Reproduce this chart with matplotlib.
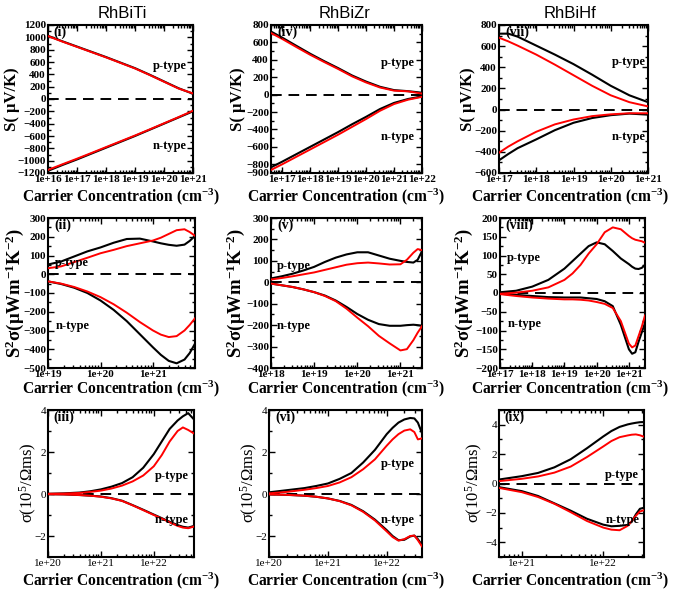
import numpy as np
import matplotlib
matplotlib.use("Agg")
import matplotlib.pyplot as plt
from matplotlib.ticker import FixedLocator, LogLocator, FuncFormatter, NullFormatter, MultipleLocator

plt.rcParams['font.family'] = ['Liberation Serif', 'DejaVu Serif']
plt.rcParams['mathtext.fontset'] = 'custom'
plt.rcParams['mathtext.rm'] = 'Liberation Serif'
plt.rcParams['mathtext.bf'] = 'Liberation Serif:bold'
plt.rcParams['mathtext.it'] = 'Liberation Serif:italic'
plt.rcParams['mathtext.default'] = 'regular'

# ---------------- data (log10 of carrier concentration, values) ----------------
# Row 1: Seebeck coefficient S (uV/K)
i_logx = [16, 16.5, 17, 17.5, 18, 18.5, 19, 19.5, 20, 20.5, 21]
i_bp = [1025, 935, 850, 765, 680, 590, 500, 395, 285, 175, 85]
i_rp = [1020, 930, 845, 760, 675, 585, 495, 390, 280, 170, 90]
i_bn = [-1165, -1070, -980, -885, -790, -695, -600, -500, -400, -300, -200]
i_rn = [-1150, -1058, -968, -875, -780, -686, -592, -494, -394, -294, -190]

iv_logx = [16.6, 17, 17.5, 18, 18.5, 19, 19.5, 20, 20.5, 21, 21.5, 22]
iv_bp = [725, 655, 562, 470, 385, 305, 220, 150, 90, 52, 40, 22]
iv_rp = [708, 640, 548, 458, 375, 295, 210, 140, 82, 46, 38, 12]
iv_bn = [-835, -770, -685, -600, -515, -430, -340, -255, -165, -95, -50, -20]
iv_rn = [-865, -800, -715, -630, -545, -460, -370, -280, -185, -108, -58, -25]

vii_logx = [17, 17.25, 17.5, 18, 18.5, 19, 19.5, 20, 20.5, 21]
vii_bp = [718, 718, 690, 605, 520, 430, 330, 225, 135, 70]
vii_rp = [680, 645, 605, 520, 425, 325, 225, 135, 70, 30]
vii_bn = [-480, -420, -365, -282, -195, -125, -80, -53, -38, -48]
vii_rn = [-408, -350, -300, -210, -140, -94, -62, -45, -35, -35]

# Row 2: power factor S^2 sigma (uW m^-1 K^-2)
ii_logx = [19, 19.25, 19.5, 19.75, 20, 20.25, 20.5, 20.75, 21, 21.15, 21.3, 21.45, 21.6, 21.7, 21.8]
ii_bp = [52, 68, 95, 122, 143, 168, 188, 190, 175, 165, 157, 152, 158, 178, 205]
ii_rp = [32, 42, 65, 88, 112, 130, 150, 165, 180, 195, 215, 235, 240, 225, 205]
ii_bn = [-38, -52, -72, -100, -140, -190, -250, -320, -390, -430, -462, -475, -455, -420, -370]
ii_rn = [-38, -50, -68, -92, -122, -160, -205, -255, -300, -322, -335, -330, -300, -270, -235]

v_logx = [18, 18.25, 18.5, 18.75, 19, 19.25, 19.5, 19.75, 20, 20.25, 20.5, 20.75, 21, 21.15, 21.3, 21.4, 21.5]
v_bp = [18, 28, 40, 55, 72, 95, 115, 130, 140, 140, 125, 110, 100, 95, 92, 105, 145]
v_rp = [13, 20, 28, 37, 46, 58, 70, 82, 89, 92, 88, 83, 84, 105, 138, 155, 150]
v_bn = [-6, -14, -22, -33, -46, -62, -85, -115, -148, -175, -195, -203, -203, -200, -198, -200, -203]
v_rn = [-6, -14, -22, -33, -46, -64, -88, -123, -165, -205, -250, -285, -318, -312, -270, -235, -205]

viii_logx = [17, 17.5, 18, 18.5, 19, 19.25, 19.5, 19.75, 20, 20.25, 20.5, 20.75, 21, 21.1, 21.2, 21.3, 21.4, 21.5]
viii_bp = [2, 6, 17, 35, 65, 85, 105, 125, 135, 130, 112, 92, 77, 70, 65, 64, 67, 75]
viii_rp = [-2, 1, 6, 15, 35, 52, 75, 105, 130, 162, 175, 170, 152, 146, 142, 140, 138, 134]
viii_bn = [-2, -5, -8, -11, -12, -12, -12, -14, -16, -22, -35, -85, -150, -162, -158, -130, -105, -80]
viii_rn = [-3, -8, -12, -15, -17, -17, -18, -20, -24, -29, -40, -75, -135, -145, -140, -115, -90, -60]

# Row 3: electrical conductivity sigma (10^5 / Ohm m s)
iii_logx = [20, 20.3, 20.6, 20.8, 21, 21.2, 21.4, 21.6, 21.8, 22, 22.15, 22.3, 22.45, 22.55, 22.65, 22.76]
iii_bp = [0.01, 0.03, 0.07, 0.13, 0.22, 0.35, 0.52, 0.8, 1.25, 1.9, 2.5, 3.1, 3.5, 3.7, 3.85, 3.55]
iii_rp = [0.01, 0.02, 0.05, 0.1, 0.16, 0.26, 0.4, 0.6, 0.88, 1.32, 1.85, 2.5, 3.0, 3.17, 3.05, 2.88]
iii_bn = [-0.01, -0.02, -0.05, -0.08, -0.12, -0.2, -0.32, -0.53, -0.75, -0.98, -1.15, -1.32, -1.48, -1.56, -1.6, -1.52]
iii_rn = [-0.01, -0.02, -0.05, -0.08, -0.13, -0.21, -0.33, -0.54, -0.77, -1.0, -1.17, -1.35, -1.52, -1.6, -1.63, -1.55]

vi_logx = [20, 20.3, 20.6, 20.8, 21, 21.2, 21.4, 21.6, 21.8, 22, 22.1, 22.2, 22.3, 22.4, 22.47, 22.53, 22.6]
vi_bp = [0.08, 0.18, 0.28, 0.38, 0.5, 0.72, 1.0, 1.5, 2.1, 2.85, 3.15, 3.4, 3.55, 3.62, 3.6, 3.4, 2.9]
vi_rp = [0.03, 0.1, 0.2, 0.28, 0.38, 0.55, 0.8, 1.18, 1.65, 2.3, 2.6, 2.85, 3.02, 3.08, 2.95, 2.6, 2.65]
vi_bn = [-0.02, -0.04, -0.08, -0.13, -0.21, -0.33, -0.52, -0.82, -1.22, -1.72, -2.0, -2.2, -2.18, -2.02, -1.98, -2.15, -2.43]
vi_rn = [-0.02, -0.04, -0.08, -0.13, -0.21, -0.34, -0.54, -0.85, -1.26, -1.78, -2.05, -2.22, -2.15, -2.0, -1.98, -2.2, -2.5]

ix_logx = [20.72, 21, 21.2, 21.4, 21.6, 21.8, 22, 22.1, 22.2, 22.3, 22.35, 22.4, 22.45, 22.5]
ix_bp = [0.27, 0.5, 0.72, 1.1, 1.65, 2.4, 3.2, 3.57, 3.85, 4.02, 4.08, 4.13, 4.17, 4.18]
ix_rp = [0.16, 0.32, 0.48, 0.74, 1.15, 1.8, 2.52, 2.89, 3.15, 3.27, 3.32, 3.34, 3.28, 3.18]
ix_bn = [-0.25, -0.52, -0.85, -1.35, -1.85, -2.4, -2.8, -2.91, -2.88, -2.82, -2.6, -2.1, -1.72, -1.65]
ix_rn = [-0.3, -0.59, -0.92, -1.38, -1.95, -2.55, -3.0, -3.14, -3.18, -2.88, -2.55, -2.2, -1.9, -1.82]

titles = ["RhBiTi", "RhBiZr", "RhBiHf"]
panel_tags = [["(i)", "(iv)", "(vii)"], ["(ii)", "(v)", "(viii)"], ["(iii)", "(vi)", "(ix)"]]

# ---------------- layout ----------------
W, H = 674, 593
fig = plt.figure(figsize=(W / 100, H / 100), dpi=100)

def px_axes(x0, x1, y0, y1):
    return fig.add_axes([x0 / W, 1 - y1 / H, (x1 - x0) / W, (y1 - y0) / H])

boxes = [
    [(48, 193, 25, 173), (271, 422, 25, 173), (499, 648, 25, 173)],
    [(48, 195, 218, 368), (271, 422, 218, 368), (500, 645, 218, 368)],
    [(48, 194, 410, 557), (269, 422, 410, 557), (499, 644, 410, 557)],
]

panels = [
    [(i_logx, i_bp, i_rp, i_bn, i_rn), (iv_logx, iv_bp, iv_rp, iv_bn, iv_rn), (vii_logx, vii_bp, vii_rp, vii_bn, vii_rn)],
    [(ii_logx, ii_bp, ii_rp, ii_bn, ii_rn), (v_logx, v_bp, v_rp, v_bn, v_rn), (viii_logx, viii_bp, viii_rp, viii_bn, viii_rn)],
    [(iii_logx, iii_bp, iii_rp, iii_bn, iii_rn), (vi_logx, vi_bp, vi_rp, vi_bn, vi_rn), (ix_logx, ix_bp, ix_rp, ix_bn, ix_rn)],
]

xlims = [
    [(16, 21), (16.6, 22), (17, 21)],
    [(19, 21.8), (18, 21.5), (17, 21.5)],
    [(20, 22.76), (20, 22.6), (20.72, 22.5)],
]
ylims = [
    [(-1200, 1200), (-900, 800), (-600, 800)],
    [(-500, 300), (-400, 300), (-200, 200)],
    [(-3, 4), (-3, 4), (-5, 5)],
]
yticks = [
    [list(range(-1200, 1201, 200)), [-900] + list(range(-800, 801, 200)), list(range(-600, 801, 200))],
    [list(range(-500, 301, 100)), list(range(-400, 301, 100)), list(range(-200, 201, 50))],
    [[-2, 0, 2, 4], [-2, 0, 2, 4], [-4, -2, 0, 2, 4]],
]
yminor = [[100, 100, 100], [50, 50, 25], [1, 1, 1]]

ptype_pos = [
    [(0.84, 0.72), (0.84, 0.74), (0.87, 0.75)],
    [(0.05, 0.70), (0.04, 0.68), (0.05, 0.73)],
    [(0.85, 0.55), (0.84, 0.63), (0.85, 0.56)],
]
ntype_pos = [
    [(0.84, 0.18), (0.84, 0.24), (0.87, 0.24)],
    [(0.05, 0.28), (0.04, 0.28), (0.05, 0.29)],
    [(0.85, 0.25), (0.84, 0.25), (0.85, 0.25)],
]

logfmt = FuncFormatter(lambda v, p: "1e+%d" % int(round(np.log10(v))))

for r in range(3):
    for c in range(3):
        ax = px_axes(*boxes[r][c])
        logx, bp, rp, bn, rn = panels[r][c]
        x = 10.0 ** np.array(logx, dtype=float)
        ax.axhline(0, color='black', lw=1.4, ls=(0, (5.5, 3.5)), zorder=1)
        ax.plot(x, bp, color='black', lw=1.5, zorder=2)
        ax.plot(x, bn, color='black', lw=1.5, zorder=2)
        ax.plot(x, rp, color='#ff0000', lw=1.4, zorder=3)
        ax.plot(x, rn, color='#ff0000', lw=1.4, zorder=3)
        ax.set_xscale('log')
        ax.set_xlim(10.0 ** xlims[r][c][0], 10.0 ** xlims[r][c][1])
        ax.set_ylim(*ylims[r][c])
        ax.xaxis.set_major_locator(LogLocator(base=10, numticks=20))
        ax.xaxis.set_minor_locator(LogLocator(base=10, subs=np.arange(2, 10), numticks=100))
        ax.xaxis.set_major_formatter(logfmt)
        ax.xaxis.set_minor_formatter(NullFormatter())
        ax.yaxis.set_major_locator(FixedLocator(yticks[r][c]))
        ax.yaxis.set_minor_locator(MultipleLocator(yminor[r][c]))
        tw = 'bold' if r < 2 else 'normal'
        ax.tick_params(which='both', direction='in', top=True, right=True, width=1.0, pad=1.5)
        ax.tick_params(which='major', length=4)
        ax.tick_params(which='minor', length=2)
        for lab in ax.get_xticklabels() + ax.get_yticklabels():
            lab.set_fontsize(8)
            lab.set_fontweight(tw)
        for s in ax.spines.values():
            s.set_linewidth(1.5)
        ax.text(0.04, 0.95, panel_tags[r][c], transform=ax.transAxes,
                fontsize=10, fontweight='bold', ha='left', va='center')
        px_, py_ = ptype_pos[r][c]
        nx_, ny_ = ntype_pos[r][c]
        ha = 'center' if r != 1 else 'left'
        ax.text(px_, py_, "p-type", transform=ax.transAxes, fontsize=9, fontweight='bold', ha=ha, va='center')
        ax.text(nx_, ny_, "n-type", transform=ax.transAxes, fontsize=9, fontweight='bold', ha=ha, va='center')

# titles
for c, (tx, t) in enumerate(zip([122, 345, 570], titles)):
    fig.text(tx / W, 1 - 13 / H, t, family='Liberation Sans', fontsize=12, ha='center', va='center')

# x labels
xl_x = [121, 346, 570]
xl_y = [197, 389, 581]
for r in range(3):
    for c in range(3):
        fig.text(xl_x[c] / W, 1 - xl_y[r] / H, "Carrier Concentration (cm$^{-3}$)",
                 fontsize=11.2, fontweight='bold', ha='center', va='center')

# y labels
ylab = ["S( μV/K)", "S$^{2}$σ(μWm$^{-1}$K$^{-2}$)", "σ(10$^{5}$/Ωms)"]
yl_x = [[12, 238, 468], [15, 236, 464], [28, 249, 474]]
yl_y = [99, 293, 483]
yl_fs = [12, 13.5, 12]
yl_w = ['bold', 'bold', 'normal']
for r in range(3):
    for c in range(3):
        fig.text(yl_x[r][c] / W, 1 - yl_y[r] / H, ylab[r], rotation=90, fontsize=yl_fs[r],
                 fontweight=yl_w[r], ha='center', va='center')

fig.savefig("out.png", dpi=100)
